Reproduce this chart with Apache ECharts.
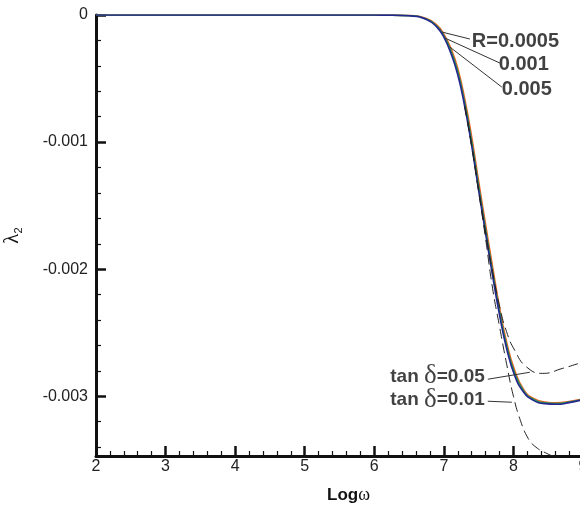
<!DOCTYPE html>
<html>
<head>
<meta charset="utf-8">
<script src="https://cdn.jsdelivr.net/npm/echarts@6/dist/echarts.min.js"></script>
<style>
  html, body { margin: 0; padding: 0; background: #fff; }
  #chart { width: 580px; height: 505px; }
</style>
</head>
<body>
<div id="chart"></div>
<script>
// ---- data ----
const logw = [2, 3, 4, 5, 5.5, 6, 6.2, 6.5, 6.75, 6.9, 7.0, 7.1, 7.2, 7.3, 7.4, 7.5, 7.6, 7.7, 7.8, 7.9, 8.02, 8.15, 8.28, 8.45, 8.62, 8.8, 9.05];
const lamR0005 = [0, 0, 0, 0, 0, -0.0000003, -0.0000006, -0.000004, -0.000028, -0.00008, -0.00015, -0.00026, -0.00042, -0.00066, -0.00096, -0.00131, -0.00165, -0.00198, -0.0023, -0.00257, -0.0028, -0.00295, -0.003015, -0.003045, -0.003052, -0.003042, -0.003015];
const lamR001 = [0, 0, 0, 0, 0, -0.0000004, -0.0000008, -0.000005, -0.000031, -0.000088, -0.000162, -0.00028, -0.000445, -0.00069, -0.000995, -0.001345, -0.001685, -0.002015, -0.00233, -0.002595, -0.00282, -0.00296, -0.003022, -0.003052, -0.003058, -0.003046, -0.003018];
const lamR005 = [0, 0, 0, 0, 0, -0.0000005, -0.000001, -0.000006, -0.000035, -0.000095, -0.000175, -0.0003, -0.00047, -0.00072, -0.00103, -0.00138, -0.00172, -0.00205, -0.00236, -0.00262, -0.00284, -0.00297, -0.00303, -0.003058, -0.003063, -0.00305, -0.00302];

const logwTan001 = [7.3, 7.4, 7.5, 7.6, 7.7, 7.8, 7.9, 8.0, 8.1, 8.2, 8.3, 8.48, 8.62, 8.8];
const lamTan001 = [-0.00072, -0.00103, -0.00139, -0.00176, -0.00215, -0.00245, -0.00274, -0.0030, -0.00319, -0.00332, -0.00339, -0.00345, -0.00348, -0.00351];
const logwTan005 = [7.3, 7.4, 7.5, 7.6, 7.7, 7.8, 7.9, 8.02, 8.19, 8.42, 8.71, 8.95, 9.05];
const lamTan005 = [-0.00072, -0.00103, -0.00138, -0.00171, -0.00202, -0.00229, -0.00249, -0.00264, -0.00277, -0.00282, -0.00278, -0.00274, -0.002725];

const yMajorTicks = [0, -0.001, -0.002, -0.003];
const yMinorTicks = [-0.0002, -0.0004, -0.0006, -0.0008, -0.0012, -0.0014, -0.0016, -0.0018, -0.0022, -0.0024, -0.0026, -0.0028, -0.0032, -0.0034];
const yLabels = ['0', '-0.001', '-0.002', '-0.003'];
const xMinorTicks = [2.2, 2.4, 2.6, 2.8, 3.2, 3.4, 3.6, 3.8, 4.2, 4.4, 4.6, 4.8, 5.2, 5.4, 5.6, 5.8, 6.2, 6.4, 6.6, 6.8, 7.2, 7.4, 7.6, 7.8, 8.2, 8.4, 8.6, 8.8];

// annotation texts, anchors (data coords) and leader lines (data coords)
const annotTexts = ['{b|R=0.0005}', '{b|0.001}', '{b|0.005}', '{t|tan }{d|δ}{t|=0.05}', '{t|tan }{d|δ}{t|=0.01}'];
const annotAnchors = [[7.402, -0.000205], [7.79, -0.000386], [7.833, -0.000583], [7.589, -0.002843], [7.589, -0.003031]];
const annotSides = ['right', 'right', 'right', 'left', 'left'];
const leaders = [
  [[7.374, -0.000189], [6.971, -0.000134]],
  [[7.805, -0.000378], [7.014, -0.000181]],
  [[7.833, -0.000567], [7.086, -0.000252]],
  [[7.632, -0.002866], [8.236, -0.002811]],
  [[7.632, -0.003039], [7.977, -0.003047]]
];

const zip = (xs, ys) => xs.map((x, i) => [x, ys[i]]);

const chart = echarts.init(document.getElementById('chart'), null, { renderer: 'canvas' });
const axisColor = '#111';
const solidBase = { type: 'line', showSymbol: false, smooth: 0.5, animation: false, silent: true };

chart.setOption({
  animation: false,
  grid: { left: 96, right: -3, top: 15, bottom: 49, containLabel: false, outerBoundsMode: 'none' },
  xAxis: [{
    type: 'value', min: 2, max: 9, interval: 1, position: 'bottom',
    name: '{a|Log}{b|ω}', nameLocation: 'middle', nameGap: 30,
    nameTextStyle: { padding: [0, 0, 0, 18], rich: {
      a: { fontSize: 17, fontWeight: 'bold', fontFamily: 'Liberation Sans', color: '#111' },
      b: { fontSize: 18, fontFamily: 'Liberation Serif', color: '#111' }
    } },
    axisLine: { onZero: false, lineStyle: { color: axisColor, width: 3 } },
    axisTick: { inside: true, length: 10, lineStyle: { color: axisColor, width: 2.5 } },
    splitLine: { show: false },
    axisLabel: { fontSize: 16, color: '#222', fontFamily: 'Liberation Sans', margin: 3, hideOverlap: false }
  }, {
    type: 'value', min: 2, max: 9, position: 'bottom', offset: 0,
    axisLine: { show: false, onZero: false },
    axisTick: { show: true, inside: true, length: 5, customValues: xMinorTicks, lineStyle: { color: axisColor, width: 1.2 } },
    axisLabel: { show: false },
    splitLine: { show: false }
  }],
  yAxis: [{
    type: 'value', min: -0.00347, max: 0, position: 'left',
    name: '{l|λ}{s|2}', nameLocation: 'middle', nameRotate: 90, nameGap: 72,
    nameTextStyle: { rich: {
      l: { fontSize: 21, fontFamily: 'Liberation Serif', color: '#111', lineHeight: 24 },
      s: { fontSize: 11, fontFamily: 'Liberation Sans', color: '#111', verticalAlign: 'bottom', lineHeight: 24 }
    } },
    axisLine: { show: true, onZero: false, lineStyle: { color: axisColor, width: 3 } },
    axisTick: { show: true, inside: true, length: 10, customValues: yMajorTicks, lineStyle: { color: axisColor, width: 2.5 } },
    splitLine: { show: false },
    axisLabel: {
      customValues: yMajorTicks, fontSize: 16, color: '#222', fontFamily: 'Liberation Sans', margin: 8,
      formatter: v => yLabels[yMajorTicks.findIndex(t => Math.abs(t - v) < 1e-9)] || ''
    }
  }, {
    type: 'value', min: -0.00347, max: 0, position: 'left', offset: 0,
    axisLine: { show: false, onZero: false },
    axisTick: { show: true, inside: true, length: 5, customValues: yMinorTicks, lineStyle: { color: axisColor, width: 1.2 } },
    axisLabel: { show: false },
    splitLine: { show: false }
  }],
  series: [
    Object.assign({}, solidBase, { name: 'R=0.0005', data: zip(logw, lamR0005), lineStyle: { color: '#ff5a1e', width: 1.6 } }),
    Object.assign({}, solidBase, { name: 'R=0.001', data: zip(logw, lamR001), lineStyle: { color: '#1f9a55', width: 1.6 } }),
    Object.assign({}, solidBase, { name: 'R=0.005', data: zip(logw, lamR005), lineStyle: { color: '#26268f', width: 1.6 } }),
    Object.assign({}, solidBase, { name: 'tan0.01', data: zip(logwTan001, lamTan001), lineStyle: { color: '#222', width: 1, type: [10, 5] } }),
    Object.assign({}, solidBase, { name: 'tan0.05', data: zip(logwTan005, lamTan005), lineStyle: { color: '#222', width: 1, type: [10, 5] } }),
    {
      type: 'scatter', symbolSize: 0, silent: true, animation: false,
      data: annotAnchors.map((p, i) => ({
        value: p,
        label: {
          show: true, position: annotSides[i], distance: 0,
          formatter: annotTexts[i],
          rich: {
            b: { fontSize: 20, fontWeight: 'bold', fontFamily: 'Liberation Sans', color: '#111' },
            t: { fontSize: 19, fontWeight: 'bold', fontFamily: 'Liberation Sans', color: '#111' },
            d: { fontSize: 27, fontFamily: 'Liberation Serif', color: '#111' }
          }
        }
      })),
      markLine: {
        silent: true, animation: false, symbol: ['none', 'none'],
        label: { show: false },
        lineStyle: { color: '#333', width: 1, type: 'solid' },
        data: leaders.map(l => [{ coord: l[0] }, { coord: l[1] }])
      }
    }
  ]
});
</script>
</body>
</html>
